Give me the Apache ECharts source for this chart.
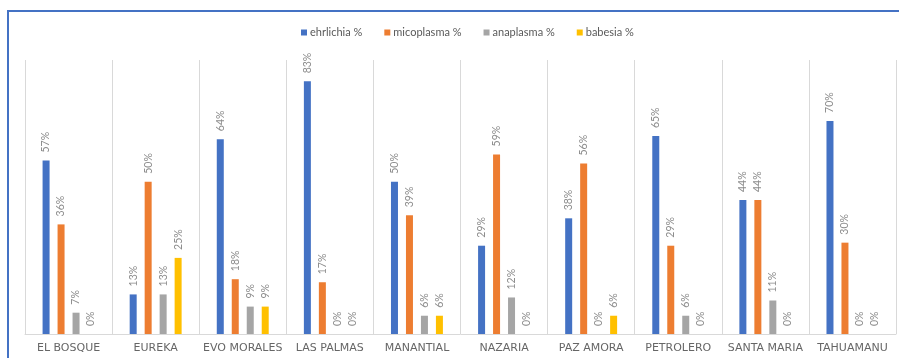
<!DOCTYPE html>
<html><head><meta charset="utf-8">
<script src="https://cdn.jsdelivr.net/npm/echarts@6/dist/echarts.min.js"></script>
<style>html,body{margin:0;padding:0;background:#fff}#c{width:899px;height:358px}</style>
</head><body><div id="c"></div>
<script>
const categories = ['EL BOSQUE','EUREKA','EVO MORALES','LAS PALMAS','MANANTIAL','NAZARIA','PAZ AMORA','PETROLERO','SANTA MARIA','TAHUAMANU'];
const seriesNames = ['ehrlichia %','micoplasma %','anaplasma %','babesia %'];
const ehrlichia = [57,13,64,83,50,29,38,65,44,70];
const micoplasma = [36,50,18,17,39,59,56,29,44,30];
const anaplasma = [7,13,9,0,6,12,0,6,11,0];
const babesia = [0,25,9,0,6,0,6,0,0,0];
const colors = ['#4472C4','#ED7D31','#A5A5A5','#FFC000'];
const values = [ehrlichia, micoplasma, anaplasma, babesia];

const chart = echarts.init(document.getElementById('c'));
chart.setOption({
  animation:false,
  color: colors,
  textStyle:{fontFamily:'Lato'},
  graphic:[{type:'rect',shape:{x:8,y:11,width:1000,height:1000},style:{fill:'none',stroke:'#4472C4',lineWidth:2},z:-1}],
  legend:{top:22,left:296,itemWidth:6,itemHeight:6,itemGap:22,icon:'rect',
    textStyle:{fontSize:11,color:'#595959',fontFamily:'Lato',padding:[0,0,0,-2]}},
  grid:{left:25,right:3,top:60,bottom:24},
  xAxis:{type:'category',data:categories,
    axisLine:{lineStyle:{color:'#d9d9d9'}},axisTick:{show:false},
    splitLine:{show:true,lineStyle:{color:'#d9d9d9'}},
    axisLabel:{color:'#666666',fontSize:11,margin:9,interval:0,fontFamily:'DejaVu Sans'}},
  yAxis:{type:'value',min:0,max:90,show:false,splitLine:{show:false}},
  series: seriesNames.map((n,i)=>({
    name:n,type:'bar',data:values[i],barWidth:7,barGap:'114%',barCategoryGap:'40%',
    label:{show:true,position:'top',rotate:90,align:'left',verticalAlign:'middle',distance:8,
      formatter:'{c}%',fontSize:10.5,color:'#8c8c8c',fontFamily:'Lato'}
  }))
});
</script></body></html>
